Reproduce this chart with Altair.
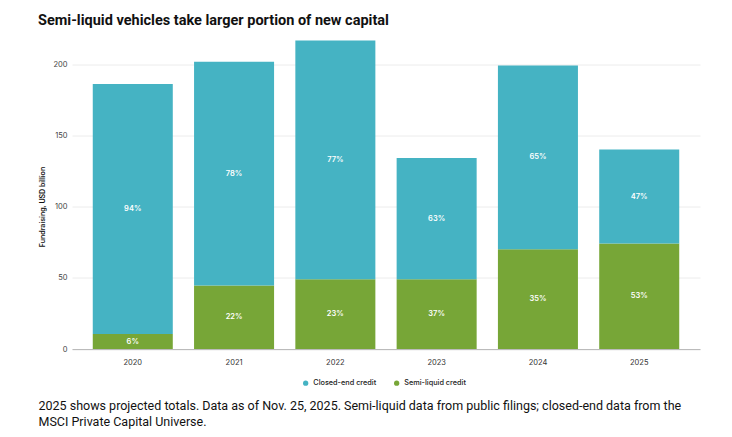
import altair as alt
import pandas as pd

years = ["2020", "2021", "2022", "2023", "2024", "2025"]
semi_liquid = [10.5, 44.5, 49.0, 49.0, 70.0, 74.0]
closed_end = [175.5, 157.0, 167.5, 85.0, 129.0, 66.0]
semi_pct = ["6%", "22%", "23%", "37%", "35%", "53%"]
closed_pct = ["94%", "78%", "77%", "63%", "65%", "47%"]
series = ["Closed-end credit", "Semi-liquid credit"]
colors = ["#45B3C3", "#77A637"]

rows = []
for i, y in enumerate(years):
    rows.append({"year": y, "series": series[1], "value": semi_liquid[i], "pct": semi_pct[i], "ord": 0})
    rows.append({"year": y, "series": series[0], "value": closed_end[i], "pct": closed_pct[i], "ord": 1})
df = pd.DataFrame(rows)

FONT = "Inter"
BIG = "Roboto"

base = alt.Chart(df).transform_stack(
    stack="value", groupby=["year"], as_=["v0", "v1"], sort=[alt.SortField("ord", order="ascending")]
).transform_calculate(mid="(datum.v0 + datum.v1) / 2")

x_enc = alt.X(
    "year:N",
    sort=years,
    scale=alt.Scale(paddingInner=0.21, paddingOuter=0.205),
    axis=alt.Axis(
        title=["2025 shows projected totals. Data as of Nov. 25, 2025. Semi-liquid data from public filings; closed-end data from the",
               "MSCI Private Capital Universe."],
        titleFont=BIG, titleFontSize=12.5, titleFontWeight="normal", titleColor="#111",
        titleAnchor="start", titleAlign="left", titleX=-34, titleY=50, titleLineHeight=16,
        labelAngle=0, labelFont=FONT, labelFontSize=7.5, labelColor="#333", labelPadding=9,
        ticks=False, domainColor="#bbbbbb", grid=False,
    ),
)

bars = base.mark_bar().encode(
    x=x_enc,
    y=alt.Y("v0:Q", scale=alt.Scale(domain=[0, 220], nice=False),
            axis=alt.Axis(title="Fundraising, USD billion", titleFont=FONT, titleFontSize=7,
                          titleFontWeight=600, titleColor="#111", titlePadding=7, titleY=171,
                          values=[0, 50, 100, 150, 200], labelFont=FONT, labelFontSize=7.5,
                          labelColor="#444", labelPadding=5, ticks=False, domain=False,
                          gridColor="#ececec")),
    y2="v1:Q",
    color=alt.Color("series:N", scale=alt.Scale(domain=series, range=colors),
                    legend=alt.Legend(title=None, orient="none", direction="horizontal",
                                      legendX=230, legendY=344, symbolType="circle",
                                      symbolSize=28, labelFont=FONT, labelFontSize=7.3,
                                      labelFontWeight=500, labelColor="#222", labelOffset=4,
                                      columnPadding=16)),
)

labels = base.mark_text(color="white", font=FONT, fontSize=7.5, fontWeight=600).encode(
    x=alt.X("year:N", sort=years),
    y=alt.Y("mid:Q"),
    text="pct:N",
)

chart = alt.layer(bars, labels).properties(
    width=628, height=313.5,
    background="white",
    title=alt.TitleParams("Semi-liquid vehicles take larger portion of new capital",
                          anchor="start", frame="group", dx=-34, offset=7, font=BIG, fontSize=14.5,
                          fontWeight=700, color="#111"),
    autosize=alt.AutoSizeParams(type="none"),
    padding={"left": 64, "top": 27.5, "right": 10, "bottom": 80},
).configure_view(stroke=None)

chart.save("out.html", embed_options={"renderer": "svg", "actions": False})
